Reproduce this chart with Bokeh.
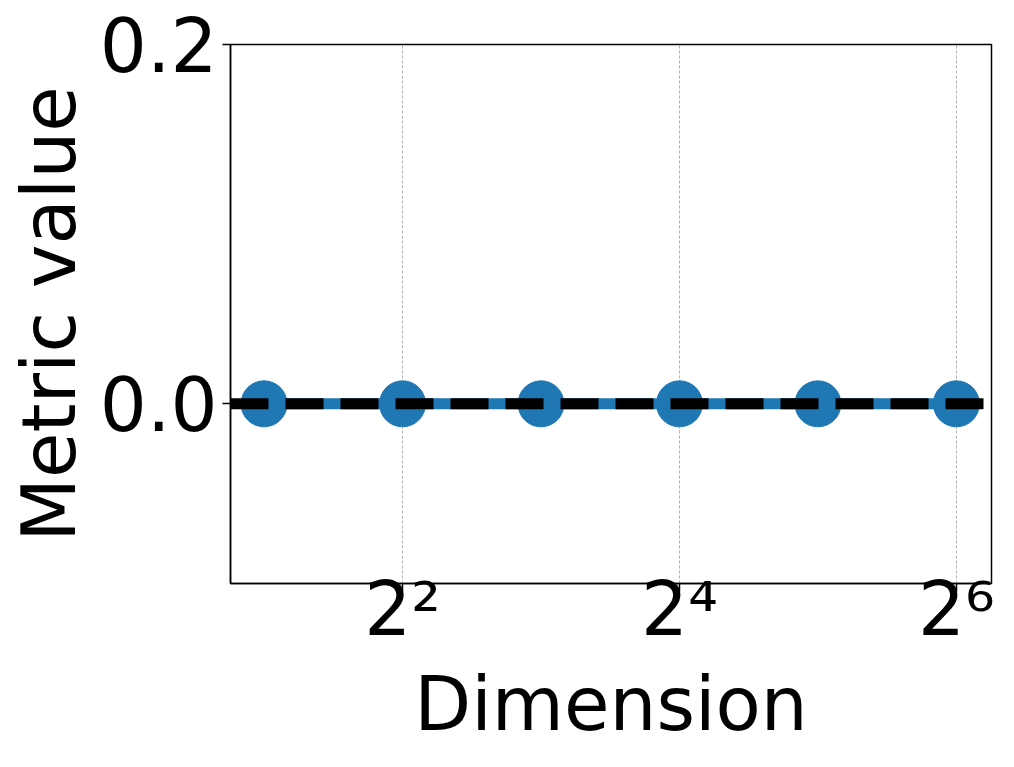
from bokeh.plotting import figure
from bokeh.models import Range1d, FixedTicker, Span
from bokeh.embed import file_html
from bokeh.resources import INLINE

# Data
dimensions = [2, 4, 8, 16, 32, 64]
metric_values = [0.0, 0.0, 0.0, 0.0, 0.0, 0.0]
reference_value = 0.0
x_ticks = [4, 16, 64]
x_tick_labels = ["2²", "2⁴", "2⁶"]
y_ticks = [0.0, 0.2]
y_tick_labels = ["0.0", "0.2"]

BLUE = "#1f77b4"
FONT = "DejaVu Sans"

p = figure(
    width=1014, height=767,
    x_axis_type="log",
    x_range=Range1d(1.691, 76.3),
    y_range=Range1d(-0.1, 0.2),
    output_backend="svg",
    toolbar_location=None,
    min_border_left=230, min_border_top=44, min_border_right=23, min_border_bottom=184,
)

p.line(dimensions, metric_values, line_color=BLUE, line_width=11)
p.scatter(dimensions, metric_values, size=46, fill_color=BLUE, line_color=BLUE)

p.add_layout(Span(location=reference_value, dimension="width", line_color="black",
                  line_width=11, line_dash="38 17"))

# axes
p.xaxis.ticker = FixedTicker(ticks=x_ticks)
p.xaxis.major_label_overrides = {t: l for t, l in zip(x_ticks, x_tick_labels)}
p.yaxis.ticker = FixedTicker(ticks=y_ticks)
p.yaxis.major_label_overrides = {t: l for t, l in zip(y_ticks, y_tick_labels)}

for ax in (p.xaxis, p.yaxis):
    ax.major_label_text_font = FONT
    ax.major_label_text_font_size = "74px"
    ax.major_label_text_color = "black"
    ax.axis_label_text_font = FONT
    ax.axis_label_text_font_size = "74px"
    ax.axis_label_text_font_style = "normal"
    ax.axis_label_text_color = "black"
    ax.axis_line_color = "black"
    ax.axis_line_width = 1.5
    ax.major_tick_line_color = "black"
    ax.major_tick_line_width = 1.5
    ax.major_tick_out = 8
    ax.major_tick_in = 0
    ax.minor_tick_line_color = None

p.xaxis.axis_label = "Dimension"
p.yaxis.axis_label = "Metric value"
p.xaxis.major_label_standoff = -26
p.xaxis.axis_label_standoff = 6
p.yaxis.major_label_standoff = 5
p.yaxis.axis_label_standoff = 5

p.xgrid.grid_line_color = "#b0b0b0"
p.xgrid.grid_line_dash = "3 2"
p.xgrid.grid_line_width = 1
p.ygrid.grid_line_color = None

p.outline_line_color = "black"
p.outline_line_width = 1.5
p.background_fill_color = "white"
p.border_fill_color = "white"

open("out.html", "w").write(file_html(p, INLINE))
